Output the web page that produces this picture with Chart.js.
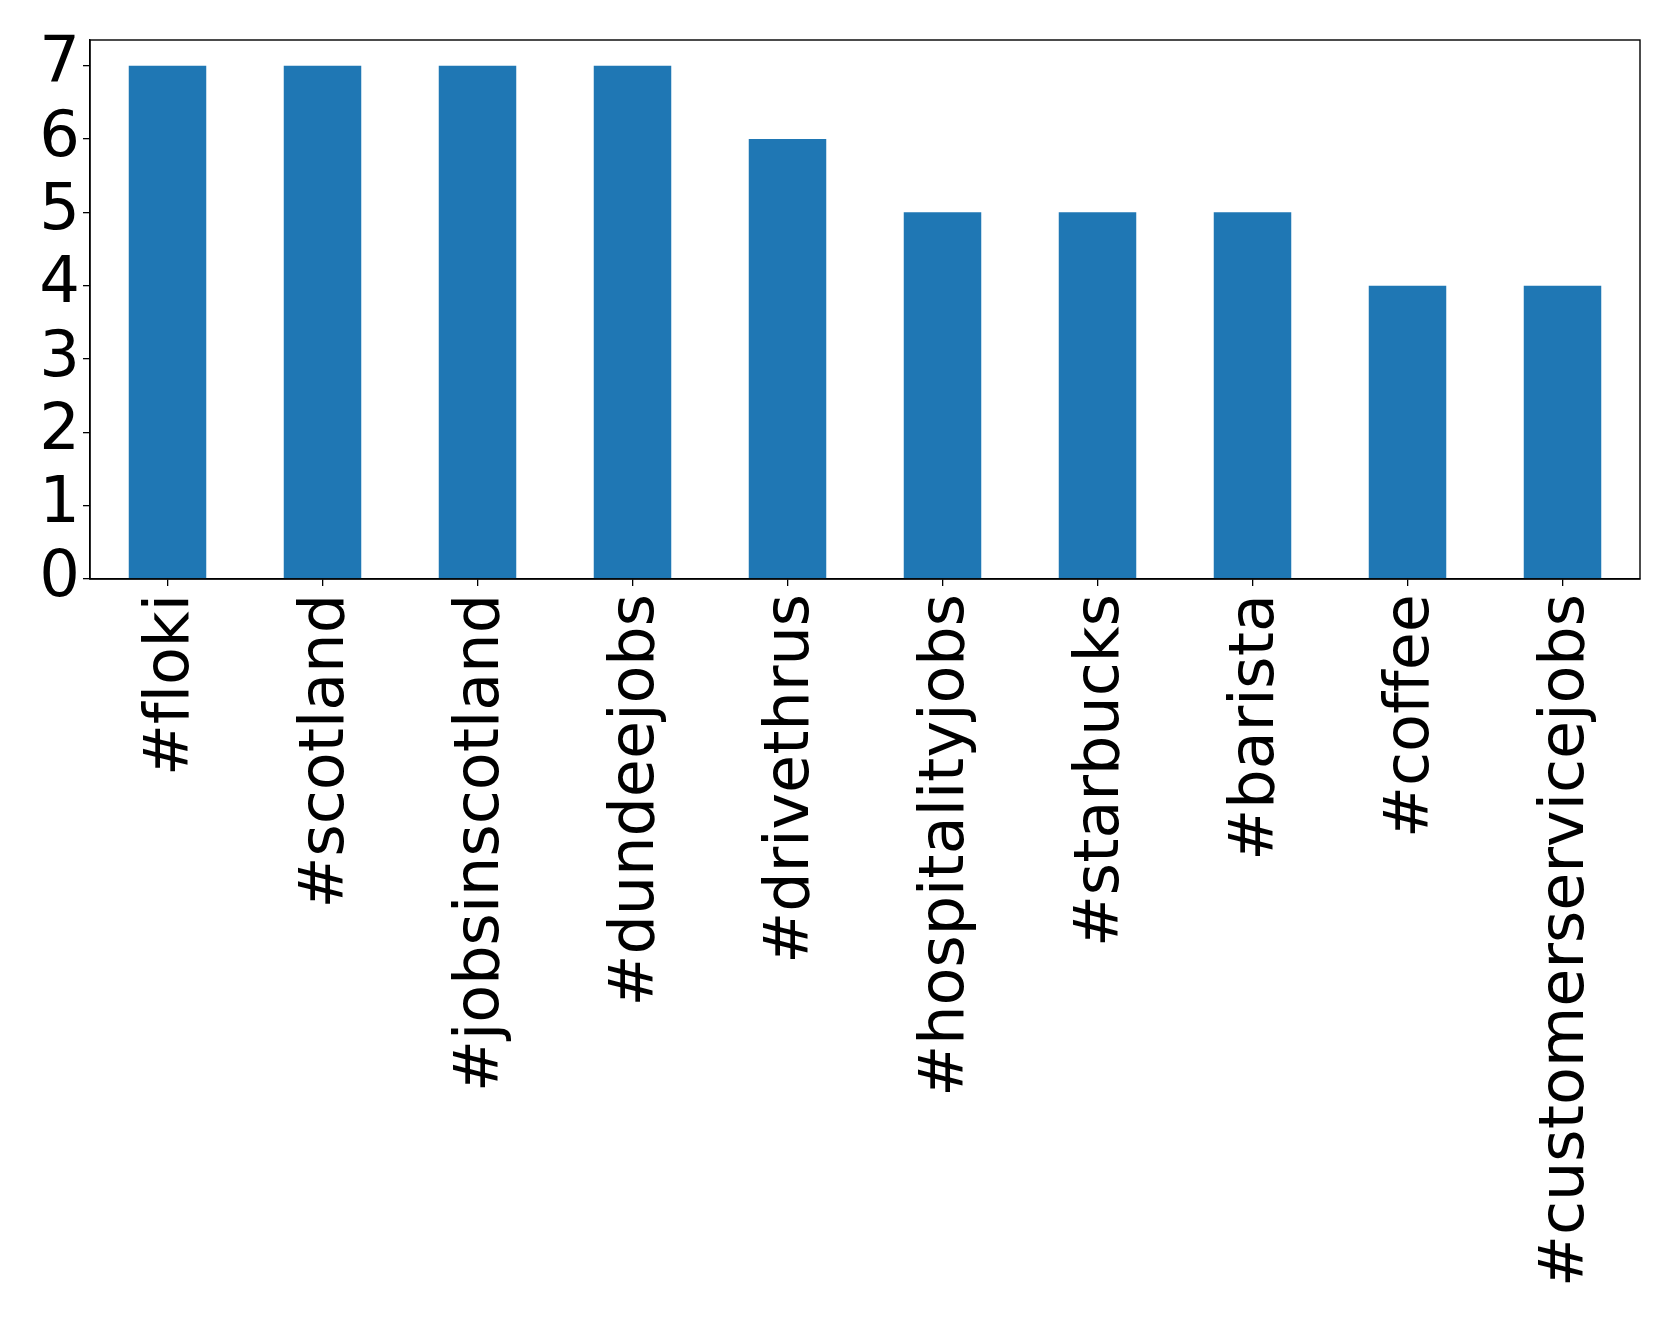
<!DOCTYPE html>
<html>
<head>
<meta charset="utf-8">
<script src="https://cdn.jsdelivr.net/npm/chart.js@4/dist/chart.umd.min.js"></script>
<style>
  html, body { margin: 0; padding: 0; background: #fff; }
  #wrap { width: 1679px; height: 1327px; position: relative; }
  canvas { font-variant-ligatures: none; }
</style>
</head>
<body>
<div id="wrap"><canvas id="c" width="1679" height="1327"></canvas></div>
<script>
const categories = ['#floki', '#scotland', '#jobsinscotland', '#dundeejobs', '#drivethrus',
  '#hospitalityjobs', '#starbucks', '#barista', '#coffee', '#customerservicejobs'];
const counts = [7, 7, 7, 7, 6, 5, 5, 5, 4, 4];
const yTicks = [0, 1, 2, 3, 4, 5, 6, 7];
const yMax = 7.35;

const noLigatures = {
  id: 'noLigatures',
  beforeDraw(chart) {
    const ctx = chart.ctx;
    if ('letterSpacing' in ctx) ctx.letterSpacing = '0.01px';
  }
};

const frame = {
  id: 'frame',
  afterDatasetsDraw(chart) {
    const a = chart.chartArea, ctx = chart.ctx;
    ctx.save();
    ctx.strokeStyle = '#000';
    ctx.lineWidth = 1.4;
    ctx.strokeRect(a.left, a.top, a.right - a.left, a.bottom - a.top);
    ctx.restore();
  }
};

new Chart(document.getElementById('c'), {
  type: 'bar',
  data: {
    labels: categories,
    datasets: [{
      data: counts,
      backgroundColor: '#1f77b4',
      borderWidth: 0,
      barPercentage: 0.5,
      categoryPercentage: 1.0
    }]
  },
  options: {
    responsive: false,
    animation: false,
    devicePixelRatio: 1,
    layout: { padding: { top: 40, right: 39, left: 0, bottom: 0 } },
    plugins: { legend: { display: false }, tooltip: { enabled: false } },
    scales: {
      x: {
        offset: true,
        grid: { offset: false, drawOnChartArea: false, drawTicks: true, tickLength: 7, color: '#000', lineWidth: 1.3 },
        border: { display: true, color: '#000', width: 1.4 },
        ticks: {
          autoSkip: false, maxRotation: 90, minRotation: 90, padding: 8, labelOffset: 4,
          color: '#000', font: { family: 'DejaVu Sans', size: 62 }
        },
        afterFit(scale) { scale.height = 748; scale.paddingLeft = 0; scale.paddingRight = 0; }
      },
      y: {
        min: 0, max: yMax,
        grid: { drawOnChartArea: false, drawTicks: true, tickLength: 7, color: '#000', lineWidth: 1.3 },
        border: { display: true, color: '#000', width: 1.4 },
        afterBuildTicks(scale) { scale.ticks = yTicks.map(v => ({ value: v })); },
        ticks: {
          autoSkip: false, padding: 3, color: '#000', font: { family: 'DejaVu Sans', size: 64 }
        },
        afterFit(scale) { scale.width = 90; scale.paddingTop = 0; scale.paddingBottom = 0; }
      }
    }
  },
  plugins: [noLigatures, frame]
});
</script>
</body>
</html>
